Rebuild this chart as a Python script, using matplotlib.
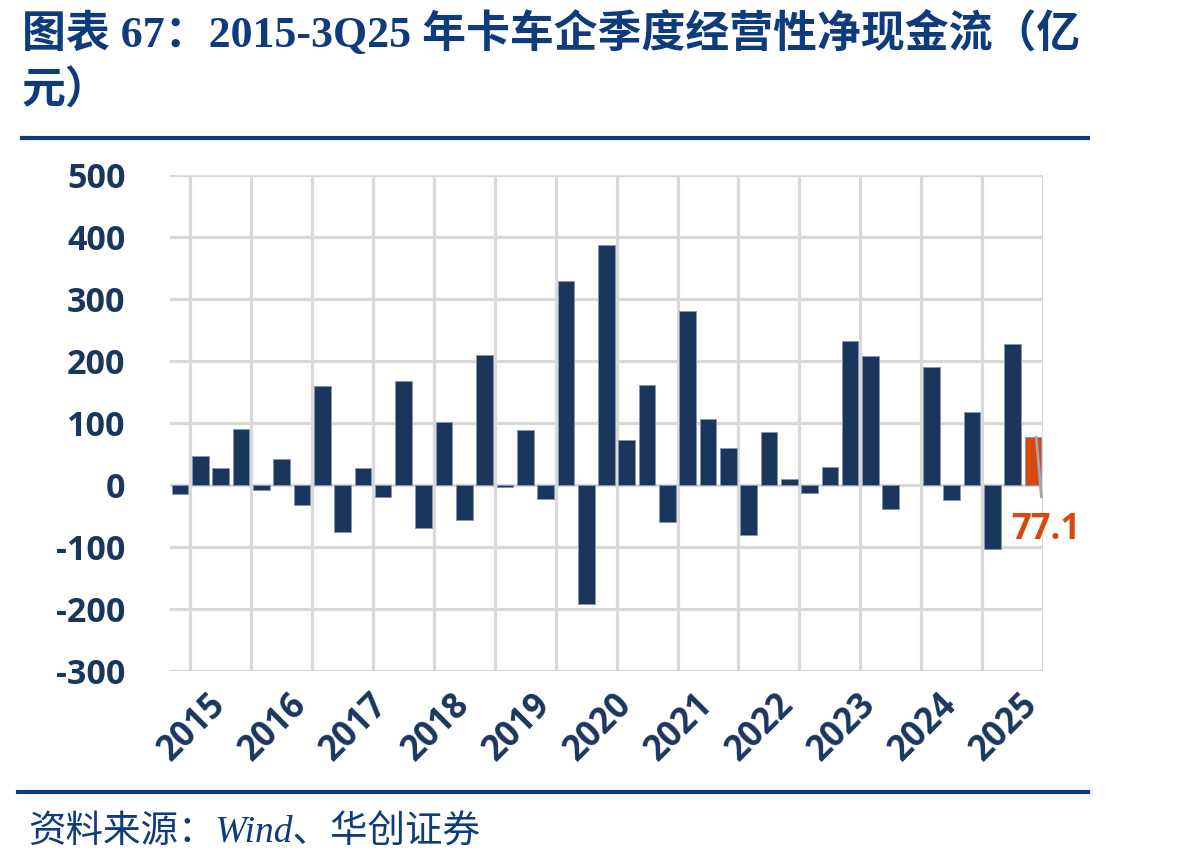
import matplotlib
matplotlib.use("Agg")
import matplotlib.pyplot as plt
from matplotlib.lines import Line2D
import numpy as np

# ---- data ----
years = ["2015", "2016", "2017", "2018", "2019", "2020", "2021", "2022", "2023", "2024", "2025"]
quarters = [f"{y}Q{q}" for y in years for q in (1, 2, 3, 4)][:43]
values = [-15, 47, 27, 91, -8, 42, -33, 160, -76, 28, -20, 167, -70, 102, -57,
          209, -4, 88, -23, 329, -192, 387, 72, 161, -60, 280, 106, 59, -81, 85,
          10, -13, 29, 233, 208, -38, 0, 190, -24, 118, -104, 227, 77.1]
yticks = [500, 400, 300, 200, 100, 0, -100, -200, -300]
last_label = "77.1"

NAVY = "#1B365D"
ORANGE = "#D9470F"
TITLE_C = "#0E3B7C"
GRID = "#D9D9D9"

fig = plt.figure(figsize=(11.98, 8.68), dpi=100)
ax = fig.add_axes([170 / 1198, 1 - 671 / 868, (1043 - 170) / 1198, (671 - 175) / 868])

x = np.arange(len(values))
colors = [NAVY] * (len(values) - 1) + [ORANGE]
edges = ["#8497B0" if v != 0 else "none" for v in values]
ax.bar(x, values, width=0.82, color=colors, edgecolor=edges, linewidth=0.7, zorder=3)

ax.set_xlim(-0.5, len(values) - 0.5)
ax.set_ylim(-300, 500)
ax.set_yticks(yticks)
ax.set_yticklabels([str(v) for v in yticks], fontfamily="Open Sans", fontweight="bold",
                   fontsize=24.5, color=NAVY)
ax.tick_params(axis="y", length=0, pad=32)

# vertical gridlines every 3 quarters
ax.set_xticks(np.arange(0.5, len(values), 3), minor=True)
year_pos = [quarters.index(y + "Q1") + 0.6 for y in years]
ax.set_xticks(year_pos)
ax.set_xticklabels(years, fontfamily="Open Sans", fontweight="bold", fontsize=25,
                   color=NAVY, rotation=45, ha="center", va="center",
                   rotation_mode="anchor")
ax.tick_params(axis="x", which="both", length=0, pad=41)
ax.grid(True, axis="y", which="major", color=GRID, linewidth=2.3, zorder=0)
ax.grid(True, axis="x", which="minor", color=GRID, linewidth=2.3, zorder=0)
ax.grid(False, axis="x", which="major")
for s in ax.spines.values():
    s.set_visible(False)
ax.set_axisbelow(True)

# leader line + label for last bar
i_last = len(values) - 1
ax.add_line(Line2D([i_last + 0.17, i_last + 0.42], [values[-1], -19], color="#A6A6A6",
                   linewidth=2, zorder=4, clip_on=False))
ax.text(i_last + 0.65, -73, last_label, color=ORANGE, fontfamily="Open Sans",
        fontweight="bold", fontsize=25, ha="center", va="center", clip_on=False)

# title
tfam = ["Liberation Serif", "Noto Sans CJK SC"]
fig.text(22 / 1198, 1 - 33 / 868, "图表 67：2015-3Q25 年卡车企季度经营性净现金流（亿",
         family=tfam, fontweight="bold", fontsize=31.6, color=TITLE_C, va="center", ha="left")
fig.text(22 / 1198, 1 - 92 / 868, "元）", family=tfam, fontweight="bold", fontsize=31.6,
         color=TITLE_C, va="center", ha="left")

# rules
fig.add_artist(Line2D([22 / 1198, 1088 / 1198], [1 - 138 / 868] * 2, color="#0E3B7C",
                      linewidth=3, transform=fig.transFigure))
fig.add_artist(Line2D([18 / 1198, 1088 / 1198], [1 - 792 / 868] * 2, color="#0E3B7C",
                      linewidth=3, transform=fig.transFigure))

# source
fig.text(28 / 1198, 1 - 833 / 868, "资料来源：Wind、华创证券", family=tfam, style="italic",
         fontsize=27, color=TITLE_C, va="center", ha="left")

fig.savefig("out.png", dpi=100)
